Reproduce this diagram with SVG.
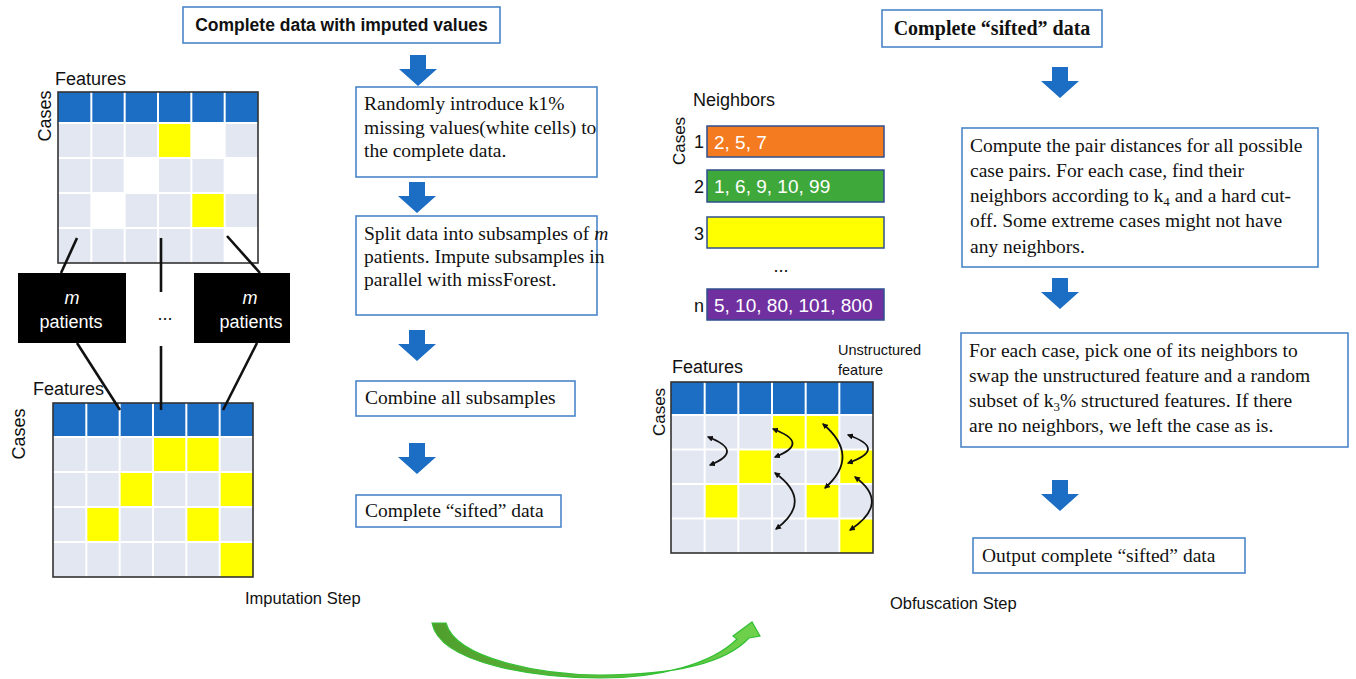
<svg xmlns="http://www.w3.org/2000/svg" width="1356" height="679" viewBox="0 0 1356 679">
<style>
.sans{font-family:"Liberation Sans",Arial,sans-serif;fill:#111}
.serif{font-family:"Liberation Serif","Times New Roman",serif;fill:#111;font-size:19.5px}
.box{fill:#fff;stroke:#4a86c8;stroke-width:1.6}
.hdr{fill:#1c6dc4}
.lt{fill:#e3e7f1}
.yl{fill:#ffff00}
.wh{fill:#fff}
.gl{stroke:#fff;stroke-width:2;fill:none}
.bd{fill:none;stroke:#333;stroke-width:1.6}
.conn{stroke:#111;stroke-width:2.6;fill:none}
.swap{stroke:#111;stroke-width:1.8;fill:none;marker-start:url(#ah);marker-end:url(#ah)}
.bar{stroke:#2f4f8f;stroke-width:1.5}
.bt{font-family:"Liberation Sans",Arial,sans-serif;font-size:19px;fill:#fff}
.blk{fill:#000}
</style>
<defs>
<path id="barrow" d="M-8,0 H8 V14 H19 L0,31 L-19,14 H-8 Z" fill="#1c6dc4"/>
<marker id="ah" viewBox="0 0 10 10" refX="8" refY="5" markerWidth="6" markerHeight="6" orient="auto-start-reverse" markerUnits="userSpaceOnUse">
<path d="M0,0 L10,5 L0,10 Z" fill="#111"/>
</marker>
<linearGradient id="gg" x1="0" y1="0" x2="1" y2="0">
<stop offset="0" stop-color="#4f9e2c"/>
<stop offset="1" stop-color="#6fd24c"/>
</linearGradient>
</defs>

<!-- Grid 1 (top-left) -->
<g id="grid-top">
<text class="sans" x="55" y="85" font-size="18">Features</text>
<text class="sans" font-size="18" text-anchor="middle" transform="translate(51,116) rotate(-90)">Cases</text>
<rect class="lt" x="58" y="123" width="200" height="140"/>
<rect class="hdr" x="58" y="92" width="200" height="31"/>
<rect class="yl" x="158" y="123" width="33.33" height="35"/>
<rect class="wh" x="191.33" y="123" width="33.33" height="35"/>
<rect class="wh" x="124.67" y="158" width="33.33" height="35"/>
<rect class="wh" x="224.67" y="158" width="33.33" height="35"/>
<rect class="wh" x="91.33" y="193" width="33.33" height="35"/>
<rect class="yl" x="191.33" y="193" width="33.33" height="35"/>
<rect class="wh" x="224.67" y="228" width="33.33" height="35"/>
<path class="gl" d="M91.33,92V263M124.67,92V263M158,92V263M191.33,92V263M224.67,92V263M58,123H258M58,158H258M58,193H258M58,228H258"/>
<rect class="bd" x="58" y="92" width="200" height="171"/>
</g>

<!-- Grid 2 (bottom-left) -->
<g id="grid-bottom">
<text class="sans" x="33" y="395" font-size="18">Features</text>
<text class="sans" font-size="18" text-anchor="middle" transform="translate(25,434) rotate(-90)">Cases</text>
<rect class="lt" x="53" y="437" width="200" height="140"/>
<rect class="hdr" x="53" y="403" width="200" height="34"/>
<rect class="yl" x="153" y="437" width="33.33" height="35"/>
<rect class="yl" x="186.33" y="437" width="33.33" height="35"/>
<rect class="yl" x="119.67" y="472" width="33.33" height="35"/>
<rect class="yl" x="219.67" y="472" width="33.33" height="35"/>
<rect class="yl" x="86.33" y="507" width="33.33" height="35"/>
<rect class="yl" x="186.33" y="507" width="33.33" height="35"/>
<rect class="yl" x="219.67" y="542" width="33.33" height="35"/>
<path class="gl" d="M86.33,403V577M119.67,403V577M153,403V577M186.33,403V577M219.67,403V577M53,437H253M53,472H253M53,507H253M53,542H253"/>
<rect class="bd" x="53" y="403" width="200" height="174"/>
<text class="sans" x="245" y="604" font-size="16.5">Imputation Step</text>
</g>

<!-- m patients boxes -->
<g id="mp-left">
<rect class="blk" x="18" y="273" width="108" height="70"/>
<text class="sans" x="72" y="304" font-size="18" text-anchor="middle" fill="#fff" style="fill:#fff;font-style:italic">m</text>
<text class="sans" x="71" y="328" font-size="18" text-anchor="middle" style="fill:#fff">patients</text>
</g>
<g id="mp-right">
<rect class="blk" x="194" y="273" width="96" height="70"/>
<text class="sans" x="250" y="304" font-size="18" text-anchor="middle" style="fill:#fff;font-style:italic">m</text>
<text class="sans" x="251" y="328" font-size="18" text-anchor="middle" style="fill:#fff">patients</text>
</g>
<g id="mp-dots">
<text class="sans" x="165" y="320" font-size="18" text-anchor="middle">...</text>
</g>

<!-- Imputation flow boxes -->
<g id="b1">
<rect class="box" x="183" y="7" width="317" height="36"/>
<text class="sans" x="341.5" y="31" font-size="17.5" font-weight="bold" text-anchor="middle">Complete data with imputed values</text>
</g>
<g id="b2">
<rect class="box" x="356" y="87" width="241" height="90"/>
<text class="serif" x="364" y="110">Randomly introduce k1%</text>
<text class="serif" x="364" y="133.5">missing values(white cells) to</text>
<text class="serif" x="364" y="157">the complete data.</text>
</g>
<g id="b3">
<rect class="box" x="356" y="216" width="241" height="99"/>
<text class="serif" x="364" y="240">Split data into subsamples of <tspan font-style="italic">m</tspan></text>
<text class="serif" x="364" y="263">patients. Impute subsamples in</text>
<text class="serif" x="364" y="286">parallel with missForest.</text>
</g>
<g id="b4">
<rect class="box" x="356" y="381" width="219" height="35"/>
<text class="serif" x="365" y="404">Combine all subsamples</text>
</g>
<g id="b5">
<rect class="box" x="356" y="495" width="205" height="32"/>
<text class="serif" x="365" y="517">Complete “sifted” data</text>
</g>

<!-- Neighbors -->
<g id="neighbors">
<text class="sans" x="693" y="106" font-size="18">Neighbors</text>
<text class="sans" font-size="17" text-anchor="middle" transform="translate(685,141) rotate(-90)">Cases</text>
<text class="sans" x="704" y="148" font-size="18" text-anchor="end">1</text>
<rect class="bar" x="707" y="126" width="177" height="31" fill="#f47b20"/>
<text class="bt" x="714" y="149">2, 5, 7</text>
<text class="sans" x="704" y="193" font-size="18" text-anchor="end">2</text>
<rect class="bar" x="707" y="170" width="177" height="32" fill="#3fa83a"/>
<text class="bt" x="714" y="193">1, 6, 9, 10, 99</text>
<text class="sans" x="704" y="240" font-size="18" text-anchor="end">3</text>
<rect class="bar" x="707" y="217" width="177" height="31" fill="#ffff00"/>
<text class="sans" x="781" y="272" font-size="18" text-anchor="middle">...</text>
<text class="sans" x="704" y="312" font-size="18" text-anchor="end">n</text>
<rect class="bar" x="707" y="289" width="177" height="31" fill="#7030a0"/>
<text class="bt" x="714" y="312">5, 10, 80, 101, 800</text>
</g>

<!-- Grid 3 (obfuscation) -->
<g id="grid-obf">
<text class="sans" x="672" y="373" font-size="18">Features</text>
<text class="sans" x="838" y="355" font-size="14.5">Unstructured</text>
<text class="sans" x="838" y="375" font-size="14.5">feature</text>
<text class="sans" font-size="17" text-anchor="middle" transform="translate(665,412) rotate(-90)">Cases</text>
<rect class="lt" x="671" y="415" width="202" height="138"/>
<rect class="hdr" x="671" y="382" width="202" height="33"/>
<rect class="yl" x="772" y="415" width="33.67" height="34.5"/>
<rect class="yl" x="805.67" y="415" width="33.67" height="34.5"/>
<rect class="yl" x="738.33" y="449.5" width="33.67" height="34.5"/>
<rect class="yl" x="839.33" y="449.5" width="33.67" height="34.5"/>
<rect class="yl" x="704.67" y="484" width="33.67" height="34.5"/>
<rect class="yl" x="805.67" y="484" width="33.67" height="34.5"/>
<rect class="yl" x="839.33" y="518.5" width="33.67" height="34.5"/>
<path class="gl" d="M704.67,382V553M738.33,382V553M772,382V553M805.67,382V553M839.33,382V553M671,415H873M671,449.5H873M671,484H873M671,518.5H873"/>
<rect class="bd" x="671" y="382" width="202" height="171"/>
<text class="sans" x="890" y="609" font-size="16.5">Obfuscation Step</text>
</g>

<!-- Obfuscation flow boxes -->
<g id="r1">
<rect class="box" x="882" y="10" width="220" height="37"/>
<text class="serif" x="992" y="35" font-size="20" font-weight="bold" text-anchor="middle" style="font-size:20px">Complete “sifted” data</text>
</g>
<g id="r2">
<rect class="box" x="962" y="128" width="356" height="139"/>
<text class="serif" x="970" y="152">Compute the pair distances for all possible</text>
<text class="serif" x="970" y="177">case pairs. For each case, find their</text>
<text class="serif" x="970" y="202">neighbors according to k<tspan font-size="13" dy="4">4</tspan><tspan dy="-4"> and a hard cut-</tspan></text>
<text class="serif" x="970" y="227">off. Some extreme cases might not have</text>
<text class="serif" x="970" y="253">any neighbors.</text>
</g>
<g id="r3">
<rect class="box" x="961" y="333" width="387" height="114"/>
<text class="serif" x="969" y="357">For each case, pick one of its neighbors to</text>
<text class="serif" x="969" y="382">swap the unstructured feature and a random</text>
<text class="serif" x="969" y="407">subset of k<tspan font-size="13" dy="4">3</tspan><tspan dy="-4">% structured features. If there</tspan></text>
<text class="serif" x="969" y="432">are no neighbors, we left the case as is.</text>
</g>
<g id="r4">
<rect class="box" x="973" y="538" width="272" height="35"/>
<text class="serif" x="982" y="562">Output complete “sifted” data</text>
</g>

<!-- Connectors -->
<g id="connectors">
<use href="#barrow" transform="translate(418,55)"/>
<use href="#barrow" transform="translate(417,182)"/>
<use href="#barrow" transform="translate(417,330)"/>
<use href="#barrow" transform="translate(417,443)"/>
<use href="#barrow" transform="translate(1060,67)"/>
<use href="#barrow" transform="translate(1060,278)"/>
<use href="#barrow" transform="translate(1060,480)"/>
<path class="conn" d="M77,238 L61,273"/>
<path class="conn" d="M161,238 L161,292"/>
<path class="conn" d="M227,236 L260,273"/>
<path class="conn" d="M77,343 L120,410"/>
<path class="conn" d="M161,346 L161,410"/>
<path class="conn" d="M257,343 L223,410"/>
<path class="swap" d="M708,437 Q745,451 710,465"/>
<path class="swap" d="M773,429 Q811,443 775,457"/>
<path class="swap" d="M823,424 Q861,456 825,488"/>
<path class="swap" d="M848,435 Q888,449 848,463"/>
<path class="swap" d="M775,473 Q814,501 776,529"/>
<path class="swap" d="M855,477 Q891,503 850,530"/>
<path d="M432,623 C440,665 540,678 600,678 C660,678 712,664 737,639 L733,636 L752,622 L760,636 L749,638 C722,667 660,675 600,675 C545,675 456,660 446,623 Z" fill="url(#gg)" stroke="#34c034" stroke-width="1.2"/>
</g>
</svg>
